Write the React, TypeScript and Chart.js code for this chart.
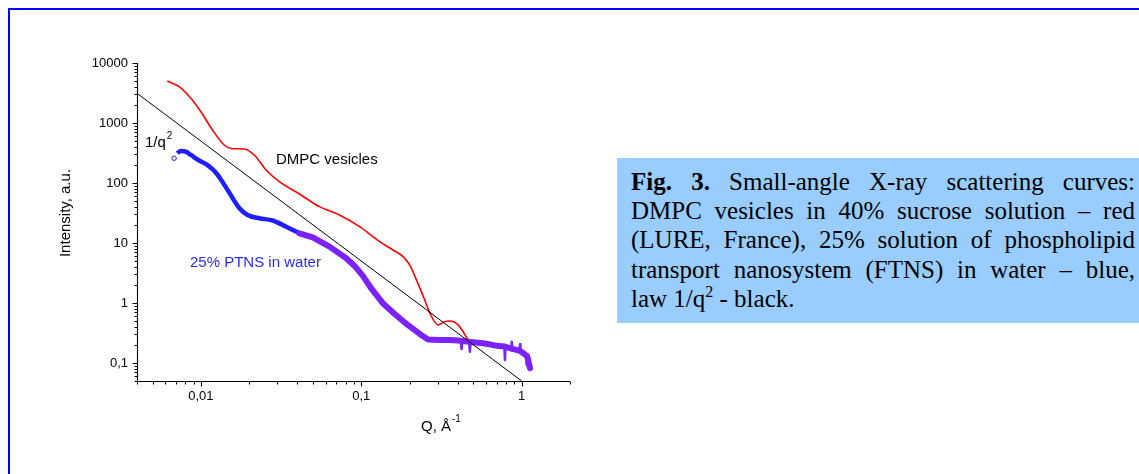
import React, { useEffect, useRef } from 'react';
import { Chart, registerables } from 'chart.js';

Chart.register(...registerables);

// ---- data ----
const redQ = [0.00618, 0.00732, 0.00866, 0.0100, 0.01182, 0.01398, 0.01547, 0.01865, 0.02153, 0.02548, 0.03086, 0.04114, 0.05486, 0.07316, 0.09759, 0.1301, 0.1576, 0.182, 0.2003, 0.2207, 0.2486, 0.2673, 0.3012, 0.3268, 0.3563, 0.4016, 0.4637];
const redI = [5000, 4030, 2580, 1540, 764, 430, 376, 369, 293, 165, 105, 65.6, 40.3, 29.3, 18.7, 10.5, 7.64, 5.91, 4.30, 2.42, 1.12, 0.681, 0.430, 0.483, 0.501, 0.430, 0.242];

const blueQ = [0.00681, 0.00714, 0.0075, 0.00806, 0.00866, 0.00976, 0.01095, 0.01246, 0.01482, 0.01735, 0.01955, 0.02314, 0.02803, 0.03398, 0.04114];
const blueI = [258, 313, 341, 332, 293, 237, 200, 147, 73.6, 38.3, 29.3, 25.8, 23.7, 18.7, 14.5];

const purpleQ = [0.04114, 0.04984, 0.06336, 0.08058, 0.09081, 0.1023, 0.1160, 0.1358, 0.1615, 0.1948, 0.2314, 0.2608, 0.3086, 0.3563, 0.3999, 0.417, 0.4217, 0.426, 0.47, 0.4752, 0.480, 0.5754, 0.6808, 0.78, 0.786, 0.792, 0.86, 0.866, 0.872, 0.97, 0.976, 0.982, 1.019, 1.07, 1.075, 1.081, 1.095, 1.127];
const purpleI = [14.5, 12.35, 8.68, 5.56, 4.14, 2.82, 1.71, 1.0, 0.656, 0.430, 0.304, 0.246, 0.242, 0.242, 0.237, 0.233, 0.170, 0.232, 0.226, 0.154, 0.224, 0.213, 0.196, 0.188, 0.112, 0.186, 0.175, 0.226, 0.172, 0.160, 0.205, 0.157, 0.147, 0.132, 0.0926, 0.130, 0.115, 0.0816];

const lawQ = [0.004, 1];
const lawI = [3125, 0.05];

const xTickValues = [0.01, 0.1, 1];
const xTickLabels = ['0,01', '0,1', '1'];
const yTickValues = [0.1, 1, 10, 100, 1000, 10000];
const yTickLabels = ['0,1', '1', '10', '100', '1000', '10000'];
const minorMultipliers = [2, 3, 4, 5, 6, 7, 8, 9];
const xDecades = [0.001, 0.01, 0.1, 1];
const yDecades = [0.01, 0.1, 1, 10, 100, 1000, 10000];

const captionLines = [
  'Small-angle X-ray scattering curves:',
  'DMPC vesicles in 40% sucrose solution \u2013 red',
  '(LURE, France), 25% solution of phospholipid',
  'transport nanosystem (FTNS) in water \u2013 blue,',
];

const SANS = '"Liberation Sans", Arial, sans-serif';

// a point is a "spike" when it sits clearly above or below both neighbours
function isSpike(i: number): boolean {
  if (i <= 0 || i >= purpleI.length - 1) return false;
  const l = Math.log10(purpleI[i]);
  const a = l - Math.log10(purpleI[i - 1]);
  const b = l - Math.log10(purpleI[i + 1]);
  return Math.sign(a) === Math.sign(b) && Math.abs(a) > 0.08 && Math.abs(b) > 0.08;
}

const decorPlugin = {
  id: 'decor',
  afterDatasetsDraw(chart: any) {
    const ctx = chart.ctx as CanvasRenderingContext2D;
    const xs = chart.scales.x;
    const ys = chart.scales.y;
    const { left, right, top, bottom } = chart.chartArea;
    ctx.save();
    ctx.strokeStyle = '#000';
    ctx.lineWidth = 1.1;
    ctx.beginPath();
    const ax = Math.round(left) + 0.5;
    const ay = Math.round(bottom) + 0.5;
    ctx.moveTo(ax, top);
    ctx.lineTo(ax, ay);
    ctx.moveTo(ax, ay);
    ctx.lineTo(right, ay);
    const xmin = xs.min, xmax = xs.max;
    for (const d of xDecades) {
      for (const k of [1, ...minorMultipliers]) {
        const v = k * d;
        if (v < xmin * 0.999 || v > xmax * 1.001) continue;
        const px = Math.round(xs.getPixelForValue(v)) + 0.5;
        const len = k === 1 ? 5 : 3;
        ctx.moveTo(px, ay);
        ctx.lineTo(px, ay + len);
      }
    }
    const ymin = ys.min, ymax = ys.max;
    for (const d of yDecades) {
      for (const k of [1, ...minorMultipliers]) {
        const v = k * d;
        if (v < ymin * 0.999 || v > ymax * 1.001) continue;
        const py = Math.round(ys.getPixelForValue(v)) + 0.5;
        const len = k === 1 ? 5 : 3;
        ctx.moveTo(ax, py);
        ctx.lineTo(ax - len, py);
      }
    }
    ctx.stroke();

    ctx.textBaseline = 'alphabetic';
    ctx.textAlign = 'left';
    ctx.fillStyle = '#000';
    ctx.font = `15px ${SANS}`;
    ctx.fillText('1/q', 145, 147);
    let w = ctx.measureText('1/q').width;
    ctx.font = `10px ${SANS}`;
    ctx.fillText('2', 145 + w + 1, 139);

    ctx.font = `15px ${SANS}`;
    ctx.fillText('DMPC vesicles', 276, 164);

    ctx.fillStyle = '#2a2aff';
    ctx.fillText('25% PTNS in water', 190, 267);

    ctx.fillStyle = '#000';
    ctx.fillText('Q, \u00C5', 421, 431);
    w = ctx.measureText('Q, \u00C5').width;
    ctx.font = `10px ${SANS}`;
    ctx.fillText('-1', 421 + w + 1, 422);

    ctx.font = `15px ${SANS}`;
    ctx.translate(70, 213);
    ctx.rotate(-Math.PI / 2);
    ctx.textAlign = 'center';
    ctx.fillText('Intensity, a.u.', 0, 0);
    ctx.restore();
  },
};

function pts(q: number[], v: number[]) {
  return q.map((x, i) => ({ x, y: v[i] }));
}

export default function App() {
  const ref = useRef<HTMLCanvasElement>(null);
  useEffect(() => {
    const canvas = ref.current!;
    const chart = new Chart(canvas, {
      type: 'line',
      data: {
        datasets: [
          {
            label: '1/q2',
            data: pts(lawQ, lawI),
            borderColor: '#000',
            borderWidth: 1,
            pointRadius: 0,
            order: 0,
          },
          {
            label: 'DMPC vesicles',
            data: pts(redQ, redI),
            borderColor: '#ff0000',
            borderWidth: 1.6,
            pointRadius: 0,
            cubicInterpolationMode: 'monotone',
            order: 1,
          },
          {
            label: '25% PTNS (high q)',
            data: pts(purpleQ, purpleI),
            borderColor: '#7b22ff',
            borderWidth: 6,
            pointRadius: 0,
            tension: 0,
            borderCapStyle: 'round',
            borderJoinStyle: 'round',
            segment: {
              borderWidth: (c: any) => (isSpike(c.p0DataIndex) || isSpike(c.p1DataIndex) ? 2.5 : undefined),
            },
            order: 2,
          },
          {
            label: '25% PTNS',
            data: pts(blueQ, blueI),
            borderColor: '#1e1eff',
            borderWidth: 4.5,
            pointRadius: (c: any) => (c.dataIndex === 0 ? 2.2 : 0),
            pointBorderColor: '#1e1eff',
            pointBackgroundColor: 'rgba(0,0,0,0)',
            pointBorderWidth: 1,
            cubicInterpolationMode: 'monotone',
            segment: {
              borderColor: (c: any) => (c.p0DataIndex === 0 ? 'rgba(0,0,0,0)' : undefined),
            },
            order: 3,
          },
        ] as any,
      },
      options: {
        animation: false,
        responsive: false,
        maintainAspectRatio: false,
        layout: { padding: { left: 0, top: 63, right: 30, bottom: 0 } },
        plugins: { legend: { display: false }, tooltip: { enabled: false } },
        scales: {
          x: {
            type: 'logarithmic',
            min: 0.004,
            max: 2,
            grid: { display: false, drawTicks: false },
            border: { display: false },
            afterBuildTicks: (s: any) => {
              s.ticks = xTickValues.map((v) => ({ value: v }));
            },
            afterFit: (s: any) => {
              s.height = 93;
            },
            ticks: {
              autoSkip: false,
              maxRotation: 0,
              padding: 8,
              color: '#000',
              font: { family: SANS, size: 13 },
              callback: (_v: any, i: number) => xTickLabels[i],
            },
          },
          y: {
            type: 'logarithmic',
            min: 0.05,
            max: 10000,
            grid: { display: false, drawTicks: false },
            border: { display: false },
            afterBuildTicks: (s: any) => {
              s.ticks = yTickValues.map((v) => ({ value: v }));
            },
            afterFit: (s: any) => {
              s.width = 137;
            },
            ticks: {
              autoSkip: false,
              padding: 9,
              color: '#000',
              font: { family: SANS, size: 13 },
              callback: (_v: any, i: number) => yTickLabels[i],
            },
          },
        },
      } as any,
      plugins: [decorPlugin],
    });
    return () => chart.destroy();
  }, []);

  const serif = '"Liberation Serif", "Times New Roman", serif';
  const lineStyle: React.CSSProperties = {
    width: 504,
    textAlign: 'justify',
    textAlignLast: 'justify' as any,
  };

  return (
    <div style={{ position: 'absolute', left: 0, top: 0, width: 1139, height: 474, overflow: 'hidden', background: '#fff' }}>
      <div
        style={{
          position: 'absolute',
          left: 8,
          top: 8,
          width: 1300,
          height: 700,
          borderLeft: '2px solid #0000ff',
          borderTop: '2px solid #0000ff',
        }}
      />
      <canvas ref={ref} width={600} height={474} style={{ position: 'absolute', left: 0, top: 0, width: 600, height: 474 }} />
      <div
        style={{
          position: 'absolute',
          left: 617,
          top: 158,
          width: 560,
          height: 165,
          background: '#99ccff',
          boxSizing: 'border-box',
          paddingLeft: 14,
          paddingTop: 9,
          fontFamily: serif,
          fontSize: 25,
          lineHeight: '29.2px',
          color: '#000',
        }}
      >
        <div style={lineStyle}>
          <b>Fig. 3.</b> {captionLines[0]}
        </div>
        <div style={lineStyle}>{captionLines[1]}</div>
        <div style={lineStyle}>{captionLines[2]}</div>
        <div style={lineStyle}>{captionLines[3]}</div>
        <div style={{ width: 504, whiteSpace: 'nowrap' }}>
          law 1/q<span style={{ fontSize: 16, position: 'relative', top: -10, lineHeight: 1 }}>2</span> - black.
        </div>
      </div>
    </div>
  );
}
